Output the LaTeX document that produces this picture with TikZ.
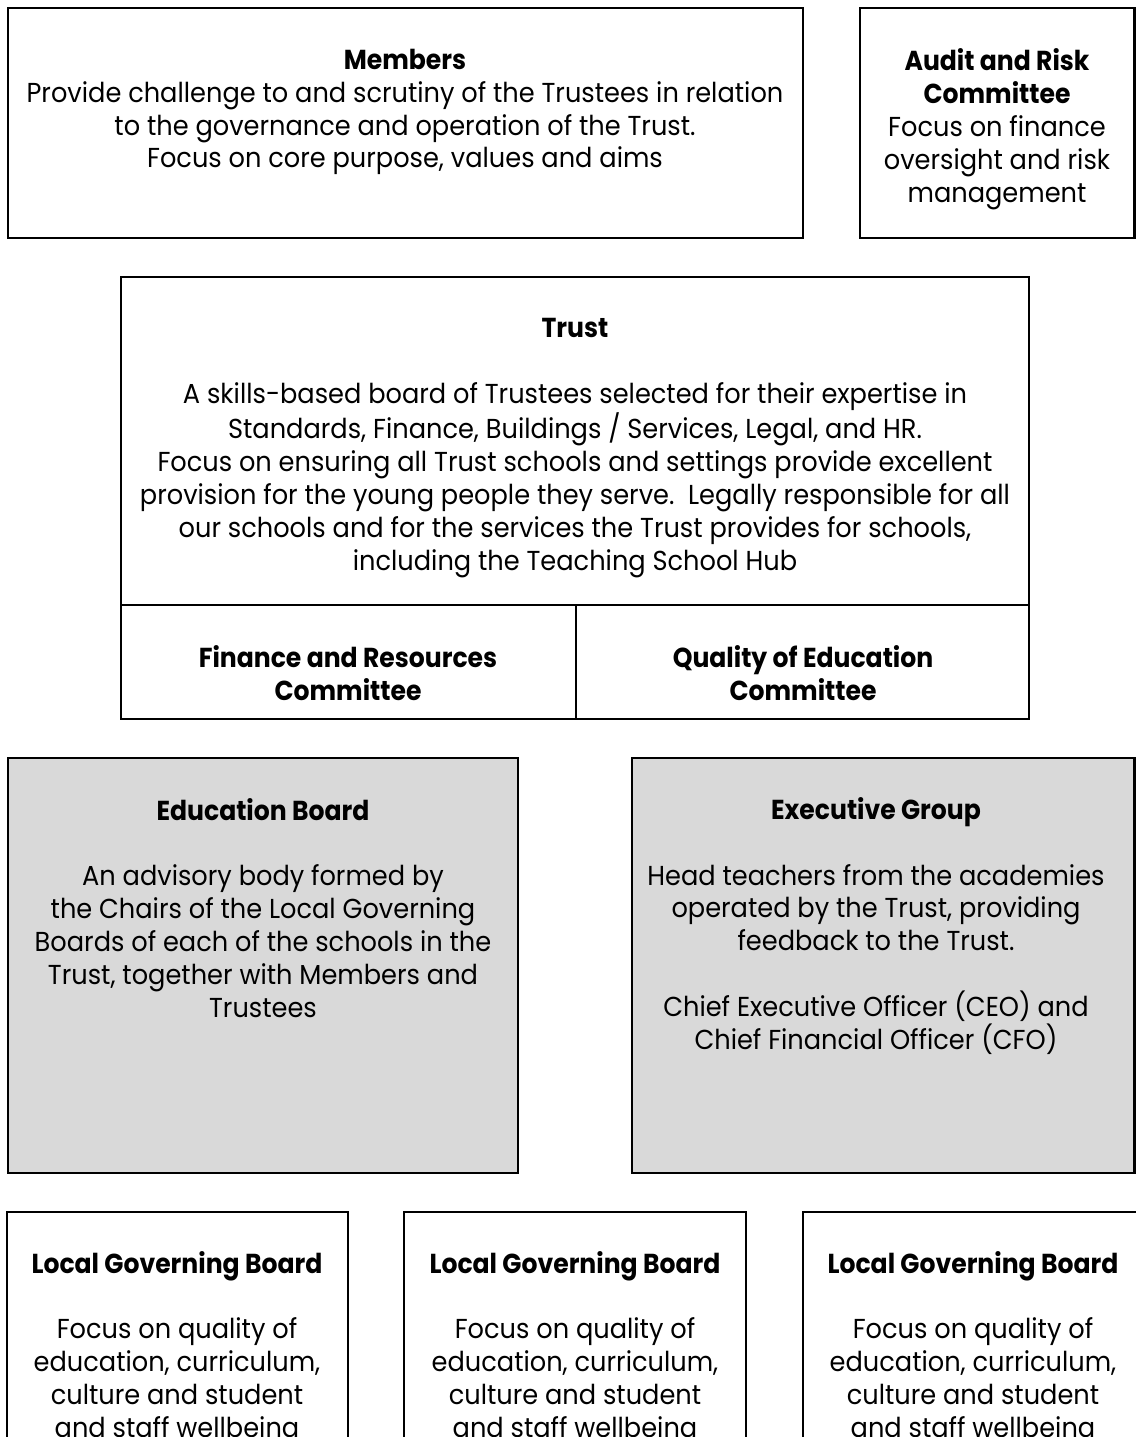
\documentclass[tikz,border=0pt]{standalone}
\usepackage{fontspec}
\setmainfont{Poppins}[UprightFeatures={FakeStretch=0.935}, BoldFeatures={FakeStretch=0.915}]
\usetikzlibrary{positioning}
\definecolor{boxgray}{HTML}{D9D9D9}
\tikzset{
  orgbox/.style={draw=black, line width=1pt},
  graybox/.style={orgbox, fill=boxgray},
  txt/.style={align=center, inner sep=0pt, font=\fontsize{12}{14.4}\selectfont},
}
\begin{document}
\begin{tikzpicture}[x=0.4375pt, y=-0.4375pt]
\useasboundingbox (0,0) rectangle (1136,1437);
\clip (0,0) rectangle (1136,1437);
% boxes
\draw[orgbox] (8,8) rectangle (803,238);
\draw[orgbox] (860,8) rectangle (1134.5,238);
\draw[orgbox] (121,277) rectangle (1029,719);
\draw[orgbox] (121,605) -- (1029,605);
\draw[orgbox] (576,605) -- (576,719);
\draw[graybox] (8,758) rectangle (518,1173);
\draw[graybox] (632,758) rectangle (1134.5,1173);
\draw[orgbox] (7,1212) rectangle (348,1460);
\draw[orgbox] (404,1212) rectangle (746,1460);
\draw[orgbox] (803,1212) rectangle (1140,1460);
% texts
\node[txt] (members) at (405,112) {\textbf{Members}\\Provide challenge to and scrutiny of the Trustees in relation\\to the governance and operation of the Trust.\\Focus on core purpose, values and aims};
\node[txt] (audit) at (997,129) {\textbf{Audit and Risk}\\\textbf{Committee}\\Focus on finance\\oversight and risk\\management};
\node[txt] (trust) at (575,448) {\textbf{Trust}\\[14.4pt]A skills-based board of Trustees selected for their expertise in\\Standards, Finance, Buildings / Services, Legal, and HR.\\Focus on ensuring all Trust schools and settings provide excellent\\provision for the young people they serve.\ \ Legally responsible for all\\our schools and for the services the Trust provides for schools,\\including the Teaching School Hub};
\node[txt] (finance) at (348,673) {\textbf{Finance and Resources}\\\textbf{Committee}};
\node[txt] (quality) at (803,673) {\textbf{Quality of Education}\\\textbf{Committee}};
\node[txt] (edu) at (263,908) {\textbf{Education Board}\\[14.4pt]An advisory body formed by\\the Chairs of the Local Governing\\Boards of each of the schools in the\\Trust, together with Members and\\Trustees};
\node[txt] (exec) at (876,926) {\textbf{Executive Group}\\[14.4pt]Head teachers from the academies\\operated by the Trust, providing\\feedback to the Trust.\\[14.4pt]Chief Executive Officer (CEO) and\\Chief Financial Officer (CFO)};
\node[txt] (lgb1) at (177,1348) {\textbf{Local Governing Board}\\[14.4pt]Focus on quality of\\education, curriculum,\\culture and student\\and staff wellbeing};
\node[txt] (lgb2) at (575,1348) {\textbf{Local Governing Board}\\[14.4pt]Focus on quality of\\education, curriculum,\\culture and student\\and staff wellbeing};
\node[txt] (lgb3) at (973,1348) {\textbf{Local Governing Board}\\[14.4pt]Focus on quality of\\education, curriculum,\\culture and student\\and staff wellbeing};
\end{tikzpicture}
\end{document}
